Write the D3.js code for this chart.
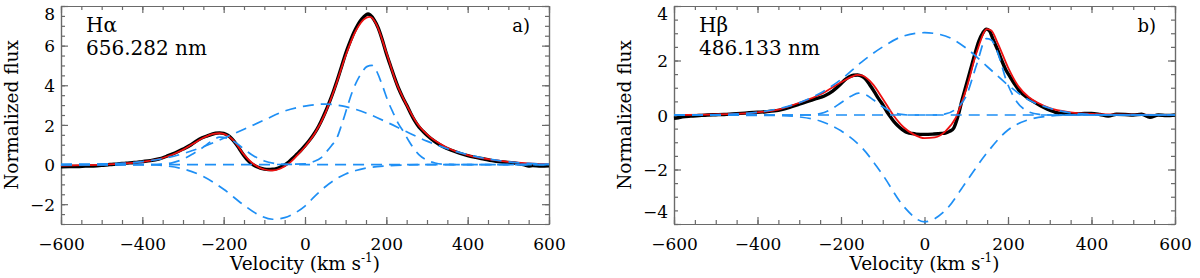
<!DOCTYPE html>
<html>
<head>
<meta charset="utf-8">
<script src="https://cdn.jsdelivr.net/npm/d3@7"></script>
<style>
  body { margin: 0; background: #fff; }
  text { font-family: "DejaVu Serif", serif; fill: #000; }
</style>
</head>
<body>
<svg id="chart" width="1200" height="278"></svg>
<script>
// --- H alpha (panel a) : [velocity km/s, normalized flux]
const haObs = [[-600,-0.12],[-580,-0.1],[-560,-0.1],[-540,-0.08],[-520,-0.07],[-500,-0.04],[-480,0.0],[-460,0.03],
  [-440,0.07],[-420,0.1],[-400,0.15],[-380,0.2],[-360,0.28],[-340,0.42],[-320,0.58],[-300,0.78],[-280,1.0],
  [-260,1.28],[-240,1.45],[-220,1.58],[-210,1.6],[-200,1.57],[-190,1.48],[-180,1.3],[-170,1.05],[-160,0.75],
  [-150,0.45],[-140,0.2],[-130,0.02],[-120,-0.1],[-110,-0.18],[-100,-0.23],[-90,-0.25],[-80,-0.24],[-70,-0.2],
  [-60,-0.12],[-50,-0.02],[-40,0.13],[-30,0.32],[-20,0.52],[-10,0.72],[0,0.95],[10,1.2],[20,1.48],[30,1.8],
  [40,2.2],[50,2.65],[60,3.15],[70,3.7],[80,4.3],[90,4.95],[100,5.6],[110,6.15],[120,6.65],[130,7.05],[140,7.35],
  [150,7.55],[155,7.6],[160,7.55],[170,7.3],[180,6.9],[190,6.3],[200,5.6],[210,5.0],[220,4.4],[230,3.85],
  [240,3.4],[250,3.0],[260,2.58],[270,2.2],[280,1.9],[290,1.68],[300,1.48],[320,1.15],[340,0.9],[360,0.72],
  [380,0.57],[400,0.45],[420,0.36],[440,0.28],[460,0.2],[480,0.14],[500,0.1],[520,0.06],[540,-0.02],
  [550,-0.08],[560,-0.05],[580,-0.08],[600,-0.06]];
const haFit = [[-600,-0.05],[-550,-0.03],[-500,0.0],[-450,0.05],[-400,0.14],[-350,0.33],[-300,0.75],[-275,1.05],
  [-250,1.35],[-225,1.55],[-210,1.58],[-200,1.55],[-175,1.2],[-150,0.5],[-125,0.0],[-100,-0.25],[-80,-0.3],
  [-60,-0.2],[-40,0.05],[-20,0.45],[0,0.9],[25,1.6],[50,2.6],[75,3.95],[100,5.5],[125,6.75],[150,7.4],[160,7.45],
  [175,7.1],[200,5.65],[225,4.1],[250,3.0],[275,2.1],[300,1.52],[350,0.85],[400,0.48],[450,0.27],[500,0.14],
  [550,0.06],[600,0.02]];
const haBroad = [[-600,0],[-500,0.03],[-400,0.15],[-350,0.3],[-300,0.55],[-250,0.9],[-200,1.33],[-150,1.78],
  [-100,2.25],[-50,2.7],[0,2.95],[50,3.05],[100,2.92],[150,2.6],[200,2.15],[250,1.65],[300,1.18],[350,0.8],
  [400,0.5],[450,0.28],[500,0.14],[550,0.06],[600,0.02]];
const haNarrow = [[-600,0],[-100,0],[0,0.03],[20,0.14],[40,0.35],[53,0.65],[65,0.95],[78,1.32],[90,2.0],
  [103,2.84],[115,3.6],[127,4.18],[140,4.65],[152,4.94],[165,5.0],[175,4.75],[190,4.0],[205,3.15],[217,2.6],
  [230,2.05],[242,1.66],[255,1.2],[266,0.85],[280,0.5],[299,0.23],[320,0.08],[340,0.02],[380,0],[600,0]];
const haBlue = [[-600,0],[-375,0],[-350,0.03],[-325,0.1],[-300,0.27],[-275,0.55],[-250,0.88],[-230,1.18],
  [-210,1.38],[-190,1.32],[-170,1.1],[-150,0.78],[-125,0.42],[-100,0.18],[-75,0.06],[-50,0.01],[0,0],[600,0]];
const haAbs = [[-600,0],[-400,0],[-350,-0.05],[-300,-0.22],[-250,-0.6],[-200,-1.25],[-150,-2.05],[-110,-2.58],
  [-80,-2.76],[-50,-2.68],[-25,-2.45],[0,-2.1],[25,-1.58],[50,-1.12],[75,-0.75],[100,-0.48],[125,-0.3],
  [150,-0.18],[200,-0.07],[250,-0.02],[300,0],[600,0]];

// --- H beta (panel b)
const hbObs = [[-600,-0.12],[-590,-0.1],[-580,-0.07],[-560,-0.04],[-540,-0.02],[-520,0.0],[-500,0.01],
  [-480,0.02],[-460,0.04],[-440,0.06],[-420,0.08],[-400,0.1],[-380,0.12],[-360,0.15],[-340,0.21],[-320,0.3],
  [-300,0.4],[-280,0.5],[-260,0.6],[-240,0.7],[-220,0.88],[-200,1.15],[-190,1.3],[-180,1.4],[-170,1.46],
  [-160,1.47],[-150,1.42],[-140,1.3],[-130,1.08],[-120,0.85],[-110,0.6],[-100,0.38],[-90,0.12],[-80,-0.1],
  [-70,-0.3],[-60,-0.45],[-50,-0.57],[-40,-0.65],[-30,-0.68],[-20,-0.7],[0,-0.71],[20,-0.7],[40,-0.68],
  [50,-0.66],[60,-0.6],[70,-0.48],[80,-0.05],[90,0.55],[100,1.1],[110,1.65],[120,2.2],[130,2.7],[140,3.02],
  [148,3.15],[155,3.1],[165,2.75],[175,2.4],[185,2.0],[195,1.65],[205,1.4],[215,1.15],[229,0.86],[245,0.65],
  [261,0.49],[280,0.32],[293,0.22],[310,0.12],[325,0.06],[350,0.04],[375,0.05],[400,0.06],[420,0.02],
  [440,-0.04],[460,0.03],[480,0.02],[500,0.0],[520,0.03],[540,-0.08],[560,0.0],[580,-0.02],[600,0.0]];
const hbFit = [[-600,0],[-500,0.02],[-400,0.1],[-350,0.2],[-300,0.45],[-250,0.75],[-200,1.2],[-175,1.4],
  [-160,1.47],[-150,1.45],[-125,1.15],[-100,0.6],[-75,0.0],[-50,-0.45],[-25,-0.72],[0,-0.85],[25,-0.82],
  [50,-0.6],[75,-0.1],[100,0.95],[125,2.3],[150,3.15],[160,3.1],[175,2.65],[200,1.75],[225,1.05],[250,0.65],
  [275,0.42],[300,0.25],[350,0.1],[400,0.04],[500,0.01],[600,0]];
const hbBroad = [[-600,0],[-500,0.01],[-450,0.04],[-400,0.1],[-350,0.23],[-300,0.45],[-250,0.8],[-200,1.3],
  [-150,1.95],[-100,2.5],[-50,2.9],[0,3.02],[50,2.9],[100,2.45],[150,1.78],[200,1.1],[250,0.55],[300,0.25],
  [350,0.08],[400,0.02],[450,0],[600,0]];
const hbAbs = [[-600,0],[-350,-0.02],[-300,-0.07],[-250,-0.22],[-200,-0.58],[-150,-1.2],[-100,-2.2],
  [-50,-3.35],[0,-3.92],[50,-3.5],[100,-2.45],[150,-1.38],[200,-0.55],[250,-0.17],[300,-0.04],[350,0],[600,0]];
const hbBlue = [[-600,0],[-275,0],[-250,0.05],[-225,0.2],[-200,0.45],[-175,0.7],[-158,0.8],[-140,0.74],
  [-122,0.55],[-100,0.3],[-80,0.12],[-60,0.03],[-40,0],[600,0]];
const hbRed = [[-600,0],[25,0],[50,0.04],[75,0.22],[100,0.7],[125,1.85],[148,2.8],[160,2.75],[175,2.3],
  [197,1.22],[221,0.49],[245,0.15],[275,0.02],[300,0],[600,0]];

const xTicks = [-600, -400, -200, 0, 200, 400, 600];

const panels = [
  { left: 61, right: 549, yDomain: [-3, 8], yTicks: [-2, 0, 2, 4, 6, 8],
    line: "H\u03b1", wave: "656.282 nm", tag: "a)",
    obs: haObs, fit: haFit, comps: [haBroad, haNarrow, haBlue, haAbs] },
  { left: 674, right: 1175, yDomain: [-4, 4], yTicks: [-4, -2, 0, 2, 4],
    line: "H\u03b2", wave: "486.133 nm", tag: "b)",
    obs: hbObs, fit: hbFit, comps: [hbBroad, hbAbs, hbBlue, hbRed] }
];

const plotTop = 6, plotBottom = 224;
const svg = d3.select("#chart");

panels.forEach(p => {
  const x = d3.scaleLinear().domain([-600, 600]).range([p.left, p.right]);
  const y = d3.scaleLinear().domain(p.yDomain).range([plotBottom, plotTop]);
  const g = svg.append("g");

  const xMinor = d3.range(-600, 601, 50);
  const yMinor = d3.range(p.yDomain[0], p.yDomain[1] + 0.01, 0.5);

  // ticks point inwards on all four sides, IDL style
  const sides = [
    [d3.axisBottom, x, `translate(0,${plotBottom})`],
    [d3.axisTop, x, `translate(0,${plotTop})`],
    [d3.axisLeft, y, `translate(${p.left},0)`],
    [d3.axisRight, y, `translate(${p.right},0)`]
  ];
  sides.forEach(([mk, sc, tr], i) => {
    const horiz = i < 2;
    g.append("g").attr("transform", tr)
      .call(mk(sc).tickValues(horiz ? xMinor : yMinor).tickFormat("").tickSize(-4).tickSizeOuter(0));
    g.append("g").attr("class", "ax" + i).attr("transform", tr)
      .call(mk(sc).tickValues(horiz ? xTicks : p.yTicks).tickSize(-7).tickSizeOuter(0)
        .tickFormat(i == 0 || i == 2 ? d3.format("d") : ""));
  });
  g.selectAll(".domain, .tick line").attr("stroke", "#6a6a6a").attr("stroke-width", 1.2);
  g.selectAll(".ax0 text").attr("y", 26).attr("dy", 0).style("font-size", "17px").attr("fill", "#000");
  // labels at the frame corners are pulled inside so they stay on the page
  g.selectAll(".ax2 .tick").each(function(d) {
    const shift = Math.max(0, plotTop + 7 - y(d)) - Math.max(0, y(d) - (plotBottom - 13));
    d3.select(this).select("text").attr("x", -6).attr("y", shift).attr("dy", "0.36em")
      .style("font-size", "17px").attr("fill", "#000");
  });

  const line = d3.line().x(d => x(d[0])).y(d => y(d[1])).curve(d3.curveMonotoneX);

  g.append("path").datum(p.obs).attr("d", line)
    .attr("fill", "none").attr("stroke", "#000").attr("stroke-width", 3.4).attr("stroke-linejoin", "round");
  g.append("path").datum(p.fit).attr("d", line)
    .attr("fill", "none").attr("stroke", "#ee1111").attr("stroke-width", 1.8);
  g.selectAll(".comp").data(p.comps).enter().append("path")
    .attr("class", "comp").attr("d", line)
    .attr("fill", "none").attr("stroke", "#1e8ff5").attr("stroke-width", 1.7)
    .attr("stroke-dasharray", "11,7");

  // labels
  g.append("text").attr("x", p.left + 25).attr("y", 32).style("font-size", "20px").text(p.line);
  g.append("text").attr("x", p.left + 25).attr("y", 55).style("font-size", "20px").text(p.wave);
  g.append("text").attr("x", p.right - 19).attr("y", 32).attr("text-anchor", "end")
    .style("font-size", "18px").text(p.tag);

  g.append("text")
    .attr("transform", `translate(${p.left - 43},${(plotTop + plotBottom) / 2}) rotate(-90)`)
    .attr("text-anchor", "middle").style("font-size", "18.5px").text("Normalized flux");

  const xt = g.append("text").attr("x", (p.left + p.right) / 2).attr("y", 270)
    .attr("text-anchor", "middle").style("font-size", "18.5px");
  xt.append("tspan").text("Velocity (km s");
  xt.append("tspan").attr("dy", -8).style("font-size", "12px").text("-1");
  xt.append("tspan").attr("dy", 8).text(")");
});
</script>
</body>
</html>
